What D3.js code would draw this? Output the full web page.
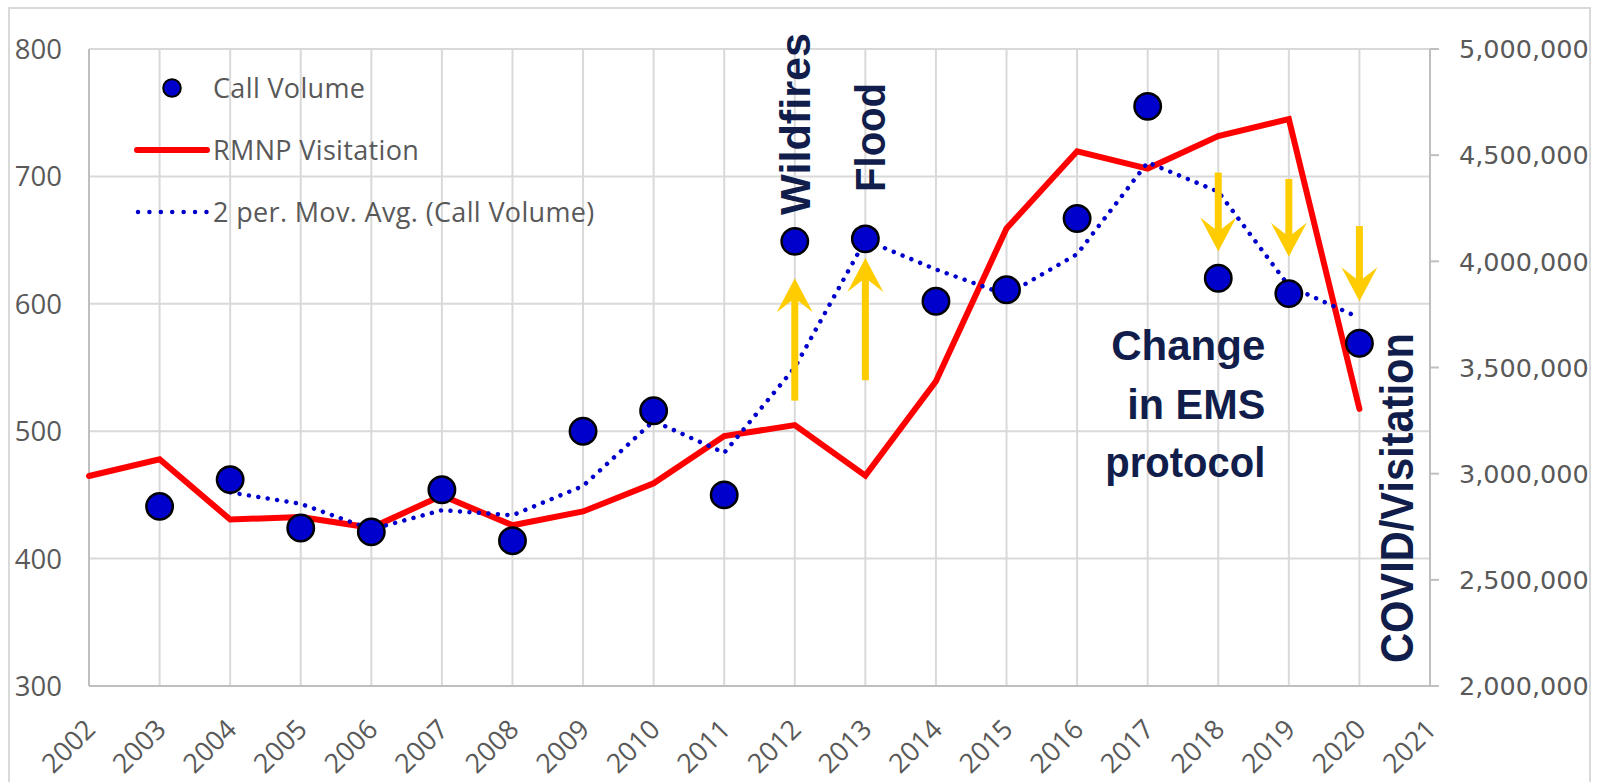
<!DOCTYPE html>
<html><head><meta charset="utf-8">
<script src="https://d3js.org/d3.v7.min.js"></script>
<style>body{margin:0;background:#fff}svg{display:block}</style>
</head><body>
<svg id="chart" width="1597" height="782"></svg>
<script>
// ---- data ----
const callYears = [2003,2004,2005,2006,2007,2008,2009,2010,2011,2012,2013,2014,2015,2016,2017,2018,2019,2020];
const callVolume = [441,462,424,421,454,414,500,516,450,649,651,602,611,667,755,620,608,569];
const movAvgYears = [2004,2005,2006,2007,2008,2009,2010,2011,2012,2013,2014,2015,2016,2017,2018,2019,2020];
const movAvg = [452,443,423,438,434,457,508,483,550,650,627,607,639,711,688,614,589];
const visitYears = [2002,2003,2004,2005,2006,2007,2008,2009,2010,2011,2012,2013,2014,2015,2016,2017,2018,2019,2020];
const visitation = [2989000,3068000,2784000,2796000,2745000,2897000,2757000,2822000,2955000,3177000,3229000,2991000,3435000,4155000,4518000,4437000,4590000,4670000,3305000];
const xTickYears = d3.range(2002, 2022);
const leftTicks = [300,400,500,600,700,800];
const rightTicks = [2000000,2500000,3000000,3500000,4000000,4500000,5000000];
const arrowYears = [2012,2013,2018,2019,2020];
const arrowFrom = [524,540,703,698,661];
const arrowTo = [620,636,641,637,602];
const legendLabels = ["Call Volume","RMNP Visitation","2 per. Mov. Avg. (Call Volume)"];

// ---- layout ----
const svg = d3.select("#chart");
const L = 89, R = 1430, T = 49, B = 686;
const x = d3.scaleLinear().domain([2002, 2021]).range([L, R]);
const yL = d3.scaleLinear().domain([300, 800]).range([B, T]);
const yR = d3.scaleLinear().domain([2000000, 5000000]).range([B, T]);
const gridC = "#d9d9d9", axisC = "#bfbfbf", textC = "#595959";
const font = "'Open Sans', sans-serif";
const navy = "#111d4a", gold = "#ffcc00";

// outer border
svg.append("rect").attr("x",9).attr("y",8).attr("width",1581).attr("height",800)
  .attr("fill","none").attr("stroke",gridC).attr("stroke-width",2);

// grid
const g = svg.append("g");
g.selectAll(".hg").data(leftTicks.filter(d=>d>300)).join("line")
  .attr("x1",L).attr("x2",R).attr("y1",d=>yL(d)).attr("y2",d=>yL(d))
  .attr("stroke",gridC).attr("stroke-width",2);
g.selectAll(".vg").data(xTickYears.filter(d=>d>2002 && d<2021)).join("line")
  .attr("x1",d=>x(d)).attr("x2",d=>x(d)).attr("y1",T).attr("y2",B)
  .attr("stroke",gridC).attr("stroke-width",2);

// axes lines
svg.append("line").attr("x1",L).attr("x2",L).attr("y1",T).attr("y2",B).attr("stroke",axisC).attr("stroke-width",2);
svg.append("line").attr("x1",L).attr("x2",R).attr("y1",B).attr("y2",B).attr("stroke",axisC).attr("stroke-width",2);
svg.append("line").attr("x1",R).attr("x2",R).attr("y1",T).attr("y2",B).attr("stroke",axisC).attr("stroke-width",2);

// left tick labels
svg.selectAll(".lt").data(leftTicks).join("text")
  .attr("x",L-27).attr("y",d=>yL(d)).attr("dy","0.36em").attr("text-anchor","end")
  .attr("font-family",font).attr("font-size",27.5).attr("fill",textC).text(d=>d);
// right ticks
svg.selectAll(".rtk").data(rightTicks).join("line")
  .attr("x1",R).attr("x2",R+9).attr("y1",d=>yR(d)).attr("y2",d=>yR(d))
  .attr("stroke",axisC).attr("stroke-width",2);
svg.selectAll(".rt").data(rightTicks).join("text")
  .attr("x",R+29).attr("y",d=>yR(d)).attr("dy","0.36em").attr("text-anchor","start")
  .attr("font-family","'DejaVu Sans', sans-serif").attr("font-size",25.5).attr("fill",textC)
  .text(d=>d3.format(",")(d));
// x tick labels
svg.selectAll(".xt").data(xTickYears).join("text")
  .attr("transform",d=>`translate(${x(d)+8},${B+45}) rotate(-45)`)
  .attr("text-anchor","end")
  .attr("font-family",font).attr("font-size",27).attr("fill",textC).text(d=>d);

// visitation line
const visitPts = visitYears.map((yr,i)=>[yr, visitation[i]]);
svg.append("path").datum(visitPts)
  .attr("d", d3.line().x(d=>x(d[0])).y(d=>yR(d[1])))
  .attr("fill","none").attr("stroke","#ff0000").attr("stroke-width",6)
  .attr("stroke-linejoin","miter").attr("stroke-linecap","round");

// moving average
const maPts = movAvgYears.map((yr,i)=>[yr, movAvg[i]]);
svg.append("path").datum(maPts)
  .attr("d", d3.line().x(d=>x(d[0])).y(d=>yL(d[1])))
  .attr("fill","none").attr("stroke","#0000cc").attr("stroke-width",4.5)
  .attr("stroke-dasharray","0.01 9.5").attr("stroke-linecap","round");

// call volume dots
svg.selectAll(".dot").data(callYears.map((yr,i)=>[yr, callVolume[i]])).join("circle")
  .attr("cx",d=>x(d[0])).attr("cy",d=>yL(d[1])).attr("r",13.2)
  .attr("fill","#0000cc").attr("stroke","#000").attr("stroke-width",2.5);

// arrows
const H = 34, N = 20, W = 18;
arrowYears.forEach((yr,i)=>{
  const ax = x(yr), y0 = yL(arrowFrom[i]), y1 = yL(arrowTo[i]);
  const dir = Math.sign(y1 - y0);
  svg.append("line").attr("x1",ax).attr("x2",ax).attr("y1",y0).attr("y2",y1 - dir*N)
    .attr("stroke",gold).attr("stroke-width",7);
  svg.append("path")
    .attr("d",`M${ax},${y1} L${ax+W},${y1-dir*H} L${ax},${y1-dir*N} L${ax-W},${y1-dir*H} Z`)
    .attr("fill",gold);
});

// annotations
const bold = "'Liberation Sans', Arial, sans-serif";
svg.append("text").attr("transform",`translate(${x(2012)+15},${yL(669.7)}) rotate(-90)`)
  .attr("font-family",bold).attr("font-weight","bold").attr("font-size",43).attr("fill",navy)
  .attr("textLength",182).attr("lengthAdjust","spacingAndGlyphs").text("Wildfires");
svg.append("text").attr("transform",`translate(${x(2013)+20},${yL(687.8)}) rotate(-90)`)
  .attr("font-family",bold).attr("font-weight","bold").attr("font-size",42).attr("fill",navy)
  .attr("textLength",109).attr("lengthAdjust","spacingAndGlyphs").text("Flood");
svg.append("text").attr("transform",`translate(${x(2020)+54},${yL(318)}) rotate(-90)`)
  .attr("font-family",bold).attr("font-weight","bold").attr("font-size",46).attr("fill",navy)
  .attr("textLength",330).attr("lengthAdjust","spacingAndGlyphs").text("COVID/Visitation");
const emsLines = ["Change","in EMS","protocol"];
const emsW = [154,138,160];
emsLines.forEach((t,i)=>{
  svg.append("text").attr("x",x(2018)+47).attr("y",360 + i*58.5).attr("text-anchor","end")
    .attr("font-family",bold).attr("font-weight","bold").attr("font-size",42).attr("fill",navy)
    .attr("textLength",emsW[i]).attr("lengthAdjust","spacingAndGlyphs").text(t);
});

// legend
const lg = svg.append("g");
const lgY = [88,150,212];
lg.append("circle").attr("cx",172).attr("cy",lgY[0]).attr("r",8.8)
  .attr("fill","#0000cc").attr("stroke","#000").attr("stroke-width",2);
lg.append("line").attr("x1",137).attr("x2",207).attr("y1",lgY[1]).attr("y2",lgY[1])
  .attr("stroke","#ff0000").attr("stroke-width",6).attr("stroke-linecap","round");
lg.append("line").attr("x1",138).attr("x2",207).attr("y1",lgY[2]).attr("y2",lgY[2])
  .attr("stroke","#0000cc").attr("stroke-width",4.5).attr("stroke-dasharray","0.01 11.4").attr("stroke-linecap","round");
legendLabels.forEach((t,i)=>{
  lg.append("text").attr("x",213).attr("y",lgY[i]).attr("dy","0.36em")
    .attr("font-family",font).attr("font-size",27).attr("letter-spacing",0.35).attr("fill",textC).text(t);
});
</script>
</body></html>
